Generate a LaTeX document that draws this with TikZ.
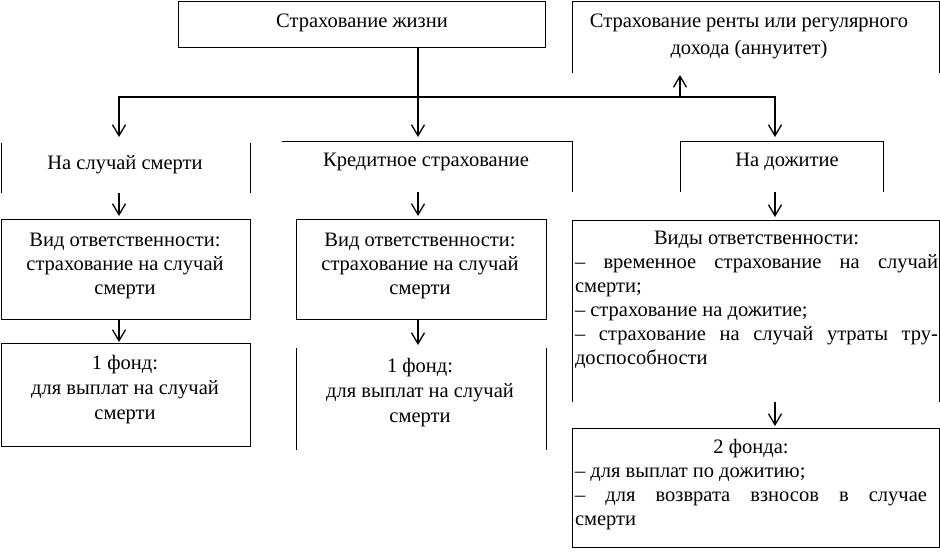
\documentclass[tikz,border=0pt]{standalone}
\usepackage{fontspec}
\setmainfont{Liberation Serif}
\usetikzlibrary{arrows.meta}
\begin{document}
\begin{tikzpicture}[x=1pt,y=-1pt,
  txt/.style={font=\fontsize{20.5}{24}\selectfont, inner sep=0pt, align=center},
  frame/.style={draw=black, line width=0.9pt},
  area/.style 2 args={minimum width=#1, minimum height=#2, inner sep=0pt, outer sep=0pt},
  tipv/.tip={Straight Barb[length=11pt,width=13pt,line width=1.3pt]},
  conn/.style={line width=1.6pt, -tipv},
]
\useasboundingbox (0,0) rectangle (940,557);

% frame areas
\node[area={367pt}{46pt}]  (life)   at (361.5,24) {};
\node[area={367pt}{72pt}]  (annu)   at (755.5,37) {};
\node[area={249pt}{50pt}]  (death)  at (125.5,168) {};
\node[area={290pt}{51pt}]  (credit) at (427,166.5) {};
\node[area={203pt}{51pt}]  (surv)   at (781.5,166.5) {};
\node[area={249pt}{100pt}] (resp1)  at (125.5,269) {};
\node[area={250pt}{100pt}] (resp2)  at (421,269) {};
\node[area={367pt}{182pt}] (resp3)  at (755.5,311) {};
\node[area={249pt}{103pt}] (fund1)  at (125.5,394.5) {};
\node[area={250pt}{102pt}] (fund2)  at (421,399) {};
\node[area={367pt}{119pt}] (fund3)  at (755.5,487.5) {};

% borders
\draw[frame] (life.north west) rectangle (life.south east);
\draw[frame] (annu.south west) -- (annu.north west) -- (annu.north east) -- (annu.south east);
\draw[frame] (death.north west) -- (death.south west);
\draw[frame] (death.north east) -- (death.south east);
\draw[frame] (credit.north west) -- (credit.north east) -- (credit.south east);
\draw[frame] (surv.south west) -- (surv.north west) -- (surv.north east) -- (surv.south east);
\draw[frame] (resp1.north west) rectangle (resp1.south east);
\draw[frame] (resp2.north west) rectangle (resp2.south east);
\draw[frame] (resp3.south west) -- (resp3.north west) -- (resp3.north east) -- (resp3.south east);
\draw[frame] (fund1.north west) rectangle (fund1.south east);
\draw[frame] (fund2.north west) -- (fund2.south west);
\draw[frame] (fund2.north east) -- (fund2.south east);
\draw[frame] (fund3.north west) rectangle (fund3.south east);

% texts
\node[txt] (lifet) at (362,23) {Страхование жизни};
\node[txt, font=\fontsize{20.5}{27}\selectfont] (annut) at (749,36.5) {Страхование ренты или регулярного\\дохода (аннуитет)};
\node[txt] (deatht) at (125,165) {На случай смерти};
\node[txt] (creditt) at (426,162) {Кредитное страхование};
\node[txt] (survt) at (787,162) {На дожитие};
\node[txt] (resp1t) at (125,266) {Вид ответственности:\\страхование на случай\\смерти};
\node[txt] (resp2t) at (420,266) {Вид ответственности:\\страхование на случай\\смерти};
\node[txt, text width=363pt, align=justify] (resp3t) at (756.5,300)
  {{\centering Виды ответственности:\par}%
   – временное страхование на случай\linebreak смерти;\par
   – страхование на дожитие;\par
   – страхование на случай утраты тру-\linebreak доспособности};
\node[txt, font=\fontsize{20.5}{25}\selectfont] (fund1t) at (125,390) {1 фонд:\\для выплат на случай\\смерти};
\node[txt, font=\fontsize{20.5}{25}\selectfont] (fund2t) at (420,392.5) {1 фонд:\\для выплат на случай\\смерти};
\node[txt, text width=352pt, align=justify] (fund3t) at (751,485)
  {{\centering 2 фонда:\par}%
   – для выплат по дожитию;\par
   – для возврата взносов в случае\linebreak смерти};

% connector columns
\coordinate (c1) at (119,0);
\coordinate (c2) at (418,0);
\coordinate (c3) at (775,0);
\coordinate (c4) at (680,0);
\coordinate (bar) at (0,97);

\draw[conn, shorten >=4pt] (c2 |- life.south) -- (c2 |- credit.north);
\draw[line width=1.6pt, tipv-tipv, shorten <=6pt, shorten >=4pt]
  (c1 |- death.north) -- (c1 |- bar) -- (c3 |- bar) -- (c3 |- surv.north);
\draw[conn, shorten >=2pt] (c4 |- bar) -- (c4 |- annu.south);

\draw[conn, shorten >=3pt] (c1 |- death.south) -- (c1 |- resp1.north);
\draw[conn, shorten >=3pt] (c2 |- credit.south) -- (c2 |- resp2.north);
\draw[conn, shorten >=3pt] (c3 |- surv.south) -- (c3 |- resp3.north);

\draw[conn, shorten >=1pt] (c1 |- resp1.south) -- (c1 |- fund1.north);
\draw[conn, shorten >=3pt] (c2 |- resp2.south) -- (c2 |- fund2.north);
\draw[conn, shorten >=2pt] (c3 |- resp3.south) -- (c3 |- fund3.north);
\end{tikzpicture}
\end{document}
